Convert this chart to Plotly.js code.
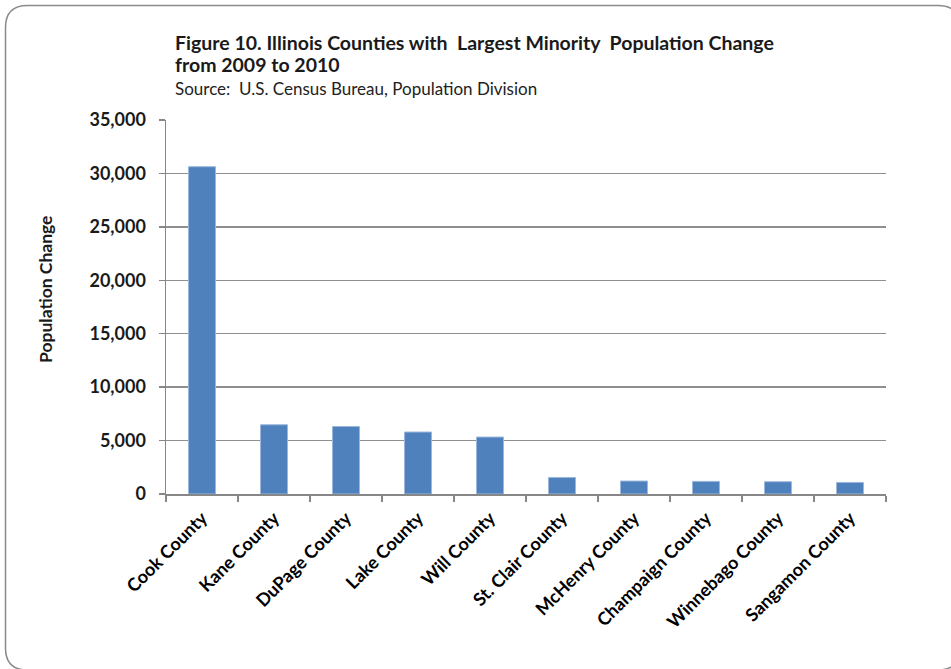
<!DOCTYPE html>
<html>
<head>
<meta charset="utf-8">
<script src="https://cdn.plot.ly/plotly-3.0.1.min.js"></script>
<style>
  html, body { margin: 0; padding: 0; background: #ffffff; }
  #chart { width: 951px; height: 669px; }
</style>
</head>
<body>
<div id="chart"></div>
<script>
// Counties with the largest minority population change, 2009 to 2010
const counties = [
  "Cook County", "Kane County", "DuPage County", "Lake County", "Will County",
  "St. Clair County", "McHenry County", "Champaign County", "Winnebago County", "Sangamon County"
];
const populationChange = [30630, 6480, 6320, 5800, 5330, 1550, 1215, 1180, 1150, 1085];

const yTickValues = [0, 5000, 10000, 15000, 20000, 25000, 30000, 35000];
const yTickLabels = ["0", "5,000", "10,000", "15,000", "20,000", "25,000", "30,000", "35,000"];

const W = 951, H = 669;
const M = { l: 166, r: 65, t: 120, b: 175 };
const PW = W - M.l - M.r, PH = H - M.t - M.b;
// pixel -> paper helpers for annotations and the frame
const px = x => (x - M.l) / PW;
const py = y => 1 - (y - M.t) / PH;

const FONT = "Lato, 'Open Sans', sans-serif";
const GRAY = "#878787";

const trace = {
  type: "bar",
  x: counties,
  y: populationChange,
  marker: { color: "#4f81bd", line: { color: "#9bb9dd", width: 1 } },
  hoverinfo: "x+y"
};

const layout = {
  width: W, height: H,
  margin: M,
  paper_bgcolor: "#ffffff",
  plot_bgcolor: "#ffffff",
  showlegend: false,
  bargap: 0.625,
  font: { family: FONT, color: "#222222" },
  xaxis: {
    type: "category",
    showline: true, linecolor: GRAY, linewidth: 1.5,
    ticks: "outside", tickson: "boundaries", ticklen: 6, tickcolor: GRAY, tickwidth: 1.5,
    tickangle: -45, ticklabelstandoff: 5,
    tickfont: { family: FONT, size: 18, color: "#000000", weight: "bold" },
    showgrid: false, zeroline: false,
    fixedrange: true
  },
  yaxis: {
    range: [0, 35000],
    tickvals: yTickValues, ticktext: yTickLabels,
    showline: true, linecolor: GRAY, linewidth: 1.5,
    ticks: "outside", ticklen: 6, tickcolor: GRAY, tickwidth: 1.5,
    ticklabelstandoff: 9,
    tickfont: { family: FONT, size: 18, color: "#1a1a1a", weight: "bold" },
    showgrid: true, gridcolor: "#8f8f8f", gridwidth: 1.3,
    zeroline: false,
    fixedrange: true
  },
  annotations: [
    {
      text: "Figure 10. Illinois Counties with&nbsp; Largest Minority&nbsp; Population Change",
      xref: "paper", yref: "paper", x: px(173), y: py(42),
      xanchor: "left", yanchor: "middle", showarrow: false,
      font: { family: FONT, size: 19.5, color: "#1a1a1a", weight: "bold" }
    },
    {
      text: "from 2009 to 2010",
      xref: "paper", yref: "paper", x: px(173), y: py(64),
      xanchor: "left", yanchor: "middle", showarrow: false,
      font: { family: FONT, size: 19.5, color: "#1a1a1a", weight: "bold" }
    },
    {
      text: "Source:&nbsp; U.S. Census Bureau, Population Division",
      xref: "paper", yref: "paper", x: px(173), y: py(89),
      xanchor: "left", yanchor: "middle", showarrow: false,
      font: { family: FONT, size: 17, color: "#222222" }
    },
    {
      text: "Population Change",
      xref: "paper", yref: "paper", x: px(45), y: py(289),
      xanchor: "center", yanchor: "middle", textangle: -90, showarrow: false,
      font: { family: FONT, size: 17.5, color: "#1a1a1a", weight: "bold" }
    }
  ],
  shapes: [
    {
      // rounded outer frame
      type: "path", xref: "paper", yref: "paper",
      path: (function () {
        const x0 = 5.5, y0 = 5.5, x1 = 960, y1 = 670, r = 22;
        const X = v => px(v), Y = v => py(v);
        return "M " + X(x0 + r) + "," + Y(y0) +
          " L " + X(x1 - r) + "," + Y(y0) +
          " Q " + X(x1) + "," + Y(y0) + " " + X(x1) + "," + Y(y0 + r) +
          " L " + X(x1) + "," + Y(y1 - r) +
          " Q " + X(x1) + "," + Y(y1) + " " + X(x1 - r) + "," + Y(y1) +
          " L " + X(x0 + r) + "," + Y(y1) +
          " Q " + X(x0) + "," + Y(y1) + " " + X(x0) + "," + Y(y1 - r) +
          " L " + X(x0) + "," + Y(y0 + r) +
          " Q " + X(x0) + "," + Y(y0) + " " + X(x0 + r) + "," + Y(y0) + " Z";
      })(),
      line: { color: "#8a8a8a", width: 1.5 },
      fillcolor: "rgba(0,0,0,0)",
      layer: "below"
    }
  ]
};

Plotly.newPlot("chart", [trace], layout, { displayModeBar: false, staticPlot: true });
</script>
</body>
</html>
